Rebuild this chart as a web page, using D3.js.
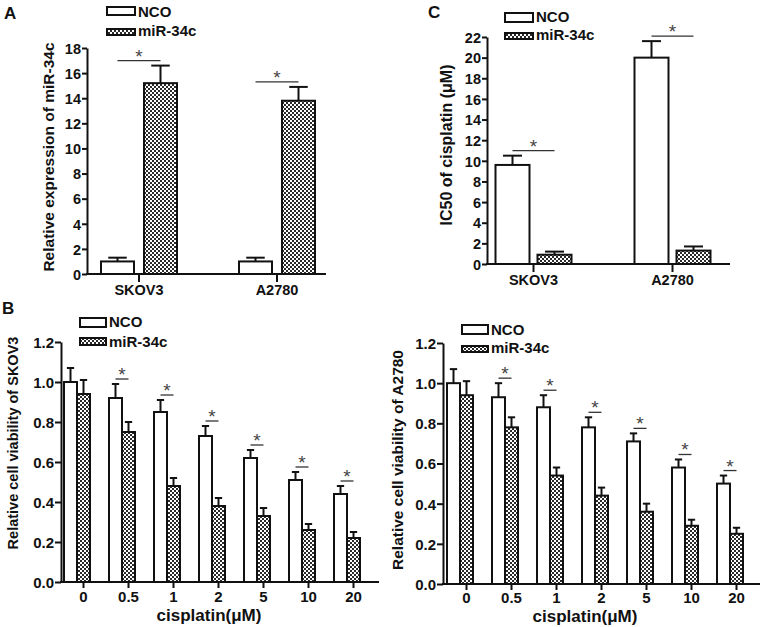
<!DOCTYPE html>
<html><head><meta charset="utf-8">
<script src="https://cdn.jsdelivr.net/npm/d3@7"></script>
<style>
body{margin:0;background:#fff}
text{font-family:"Liberation Sans",Arial,sans-serif;font-weight:bold;fill:#111}
</style>
</head><body>
<svg id="c" width="764" height="627"></svg>
<script>
// ---------- data ----------
const seriesNames = ["NCO", "miR-34c"];
const cellLines = ["SKOV3", "A2780"];
// Panel A: relative expression of miR-34c
const exprNCO = [1.0, 1.0];
const exprNCOErr = [0.3, 0.3];
const exprMiR = [15.2, 13.8];
const exprMiRErr = [1.4, 1.1];
const exprSig = [true, true];
const exprTicks = [0, 2, 4, 6, 8, 10, 12, 14, 16, 18];
// Panel C: IC50 of cisplatin
const icNCO = [9.6, 20.0];
const icNCOErr = [0.9, 1.6];
const icMiR = [0.9, 1.3];
const icMiRErr = [0.3, 0.4];
const icSig = [true, true];
const icTicks = [0, 2, 4, 6, 8, 10, 12, 14, 16, 18, 20, 22];
// Panel B: cell viability vs cisplatin dose
const doses = ["0", "0.5", "1", "2", "5", "10", "20"];
const skovNCO = [1.00, 0.92, 0.85, 0.73, 0.62, 0.51, 0.44];
const skovNCOErr = [0.07, 0.07, 0.06, 0.05, 0.04, 0.04, 0.04];
const skovMiR = [0.94, 0.75, 0.48, 0.38, 0.33, 0.26, 0.22];
const skovMiRErr = [0.07, 0.05, 0.04, 0.04, 0.04, 0.03, 0.03];
const a2780NCO = [1.00, 0.93, 0.88, 0.78, 0.71, 0.58, 0.50];
const a2780NCOErr = [0.07, 0.07, 0.06, 0.05, 0.04, 0.04, 0.04];
const a2780MiR = [0.94, 0.78, 0.54, 0.44, 0.36, 0.29, 0.25];
const a2780MiRErr = [0.07, 0.05, 0.04, 0.04, 0.04, 0.03, 0.03];
const doseSig = [false, true, true, true, true, true, true];
const viabTicks = [0, 0.2, 0.4, 0.6, 0.8, 1.0, 1.2];

// ---------- drawing ----------
const svg = d3.select("#c");
const defs = svg.append("defs");
const pat = defs.append("pattern").attr("id", "chk").attr("patternUnits", "userSpaceOnUse")
  .attr("width", 4).attr("height", 4);
pat.append("rect").attr("width", 4).attr("height", 4).attr("fill", "#fff");
pat.append("rect").attr("width", 2).attr("height", 2).attr("fill", "#2a2a2a");
pat.append("rect").attr("x", 2).attr("y", 2).attr("width", 2).attr("height", 2).attr("fill", "#2a2a2a");

const INK = "#111";

function panel(o) {
  const g = svg.append("g");
  const y = o.y;
  o.cats.forEach((c, i) => {
    const p = o.pos(c);
    const bars = [
      {x0: p.n0, x1: p.n1, v: o.a[i], e: o.aErr[i], fill: "#fff"},
      {x0: p.m0, x1: p.m1, v: o.b[i], e: o.bErr[i], fill: "url(#chk)"}
    ];
    bars.forEach(b => {
      const cx = (b.x0 + b.x1) / 2, cap = (b.x1 - b.x0) * 0.28;
      g.append("line").attr("x1", cx).attr("x2", cx).attr("y1", y(b.v)).attr("y2", y(b.v + b.e))
        .attr("stroke", INK).attr("stroke-width", 2);
      g.append("line").attr("x1", cx - cap).attr("x2", cx + cap).attr("y1", y(b.v + b.e)).attr("y2", y(b.v + b.e))
        .attr("stroke", INK).attr("stroke-width", 2);
      g.append("rect").attr("x", b.x0).attr("y", y(b.v)).attr("width", b.x1 - b.x0)
        .attr("height", y(0) - y(b.v)).attr("fill", b.fill).attr("stroke", INK).attr("stroke-width", 2);
    });
    if (o.sig[i]) {
      const top = Math.min(y(o.a[i] + o.aErr[i]), y(o.b[i] + o.bErr[i])) - 5;
      const xa = (p.n0 + p.n1) / 2, xb = (p.m0 + p.m1) / 2;
      g.append("line").attr("x1", xa).attr("x2", xb).attr("y1", top).attr("y2", top)
        .attr("stroke", "#333").attr("stroke-width", 1.3);
      g.append("text").attr("x", (xa + xb) / 2).attr("y", top + 2).attr("text-anchor", "middle")
        .style("font-weight", "normal").style("font-size", "19px").style("fill", "#444").text("*");
    }
  });
  // y axis
  const ya = g.append("g").attr("transform", `translate(${o.axisX},0)`).attr("color", INK)
    .call(d3.axisLeft(y).tickValues(o.yTicks).tickFormat(o.fmt).tickSize(o.tickLen).tickPadding(1).tickSizeOuter(0));
  ya.select(".domain").attr("stroke-width", 2);
  ya.selectAll(".tick line").attr("stroke-width", 2);
  ya.selectAll(".tick text").style("font-size", o.tickFont + "px").attr("dy", "0.36em");
  // x axis
  g.append("line").attr("x1", o.axisX - 1).attr("x2", o.axisEnd).attr("y1", y(0)).attr("y2", y(0))
    .attr("stroke", INK).attr("stroke-width", 2);
  o.cats.forEach(c => {
    const p = o.pos(c);
    g.append("line").attr("x1", p.tick).attr("x2", p.tick).attr("y1", y(0)).attr("y2", y(0) + o.xTickLen)
      .attr("stroke", INK).attr("stroke-width", 2);
    g.append("text").attr("x", p.tick).attr("y", o.catBase).attr("text-anchor", "middle")
      .style("font-size", o.catFont + "px").text(c);
  });
  // y title
  g.append("text").attr("transform", `translate(${o.yTitle.x},${o.yTitle.y}) rotate(-90)`)
    .attr("text-anchor", "middle").attr("dy", "0.35em").style("font-size", o.yTitle.size + "px").text(o.yTitle.text);
  if (o.xTitle) {
    g.append("text").attr("x", o.xTitle.x).attr("y", o.xTitle.y).attr("text-anchor", "middle")
      .style("font-size", o.xTitle.size + "px").text(o.xTitle.text);
  }
  // legend
  const L = o.legend;
  g.append("rect").attr("x", L.x).attr("y", L.y1).attr("width", L.w).attr("height", L.h1)
    .attr("fill", "#fff").attr("stroke", INK).attr("stroke-width", 2);
  g.append("rect").attr("x", L.x).attr("y", L.y2).attr("width", L.w).attr("height", L.h2)
    .attr("fill", "url(#chk)").attr("stroke", INK).attr("stroke-width", 2);
  g.append("text").attr("x", L.x + L.w + 3).attr("y", L.b1).style("font-size", "15px").text(seriesNames[0]);
  g.append("text").attr("x", L.x + L.w + 3).attr("y", L.b2).style("font-size", "15px").text(seriesNames[1]);
  // panel letter
  if (o.letter) g.append("text").attr("x", o.letter.x).attr("y", o.letter.y).style("font-size", "17px").text(o.letter.t);
}

// Panel A
const xA = d3.scaleBand().domain(cellLines).range([70, 346]);
panel({
  cats: cellLines, a: exprNCO, aErr: exprNCOErr, b: exprMiR, bErr: exprMiRErr, sig: exprSig,
  y: d3.scaleLinear().domain([0, 18]).range([274, 48]),
  yTicks: exprTicks, fmt: d3.format("d"), axisX: 87, axisEnd: 326, tickLen: 5, tickFont: 14.5,
  pos: c => { const m = xA(c) + xA.bandwidth() / 2; return {n0: m - 38, n1: m - 5, m0: m + 5, m1: m + 38, tick: m}; },
  xTickLen: 8, catBase: 295, catFont: 14.5,
  yTitle: {x: 49, y: 157, size: 15.5, text: "Relative expression of miR-34c"},
  legend: {x: 107, w: 28, y1: 7, h1: 8, y2: 29, h2: 6, b1: 17, b2: 36},
  letter: {x: 4, y: 19, t: "A"}
});

// Panel C
const xC = d3.scaleBand().domain(cellLines).range([464, 742]);
panel({
  cats: cellLines, a: icNCO, aErr: icNCOErr, b: icMiR, bErr: icMiRErr, sig: icSig,
  y: d3.scaleLinear().domain([0, 22]).range([264, 37]),
  yTicks: icTicks, fmt: d3.format("d"), axisX: 487, axisEnd: 730, tickLen: 5, tickFont: 14.5,
  pos: c => { const m = xC(c) + xC.bandwidth() / 2; return {n0: m - 38, n1: m - 4, m0: m + 4, m1: m + 38, tick: m}; },
  xTickLen: 8, catBase: 285, catFont: 14.5,
  yTitle: {x: 446, y: 145, size: 16, text: "IC50 of cisplatin (μM)"},
  legend: {x: 505, w: 28, y1: 13, h1: 9, y2: 33, h2: 6, b1: 22, b2: 40},
  letter: {x: 428, y: 18, t: "C"}
});

// Panel B left (SKOV3)
const xBL = d3.scaleBand().domain(doses).range([62, 377]);
panel({
  cats: doses, a: skovNCO, aErr: skovNCOErr, b: skovMiR, bErr: skovMiRErr, sig: doseSig,
  y: d3.scaleLinear().domain([0, 1.2]).range([582, 342]),
  yTicks: viabTicks, fmt: d3.format(".1f"), axisX: 61, axisEnd: 379, tickLen: 6, tickFont: 15,
  pos: c => { const s = xBL(c); return {n0: s + 2, n1: s + 15, m0: s + 15, m1: s + 28, tick: s + 21.5}; },
  xTickLen: 6, catBase: 602, catFont: 15,
  yTitle: {x: 13, y: 443, size: 14.5, text: "Relative cell viability of SKOV3"},
  xTitle: {x: 209, y: 621, size: 17, text: "cisplatin(μM)"},
  legend: {x: 80, w: 26, y1: 318, h1: 9, y2: 338, h2: 7, b1: 327, b2: 347},
  letter: {x: 2, y: 314, t: "B"}
});

// Panel B right (A2780)
const xBR = d3.scaleBand().domain(doses).range([445, 760]);
panel({
  cats: doses, a: a2780NCO, aErr: a2780NCOErr, b: a2780MiR, bErr: a2780MiRErr, sig: doseSig,
  y: d3.scaleLinear().domain([0, 1.2]).range([584, 343]),
  yTicks: viabTicks, fmt: d3.format(".1f"), axisX: 443, axisEnd: 760, tickLen: 6, tickFont: 15,
  pos: c => { const s = xBR(c); return {n0: s + 2, n1: s + 15, m0: s + 15, m1: s + 28, tick: s + 21.5}; },
  xTickLen: 6, catBase: 603, catFont: 15,
  yTitle: {x: 398, y: 460, size: 15.5, text: "Relative cell viability of A2780"},
  xTitle: {x: 585, y: 622, size: 17, text: "cisplatin(μM)"},
  legend: {x: 462, w: 26, y1: 325, h1: 9, y2: 346, h2: 6, b1: 335, b2: 353},
  letter: null
});
</script>
</body></html>
